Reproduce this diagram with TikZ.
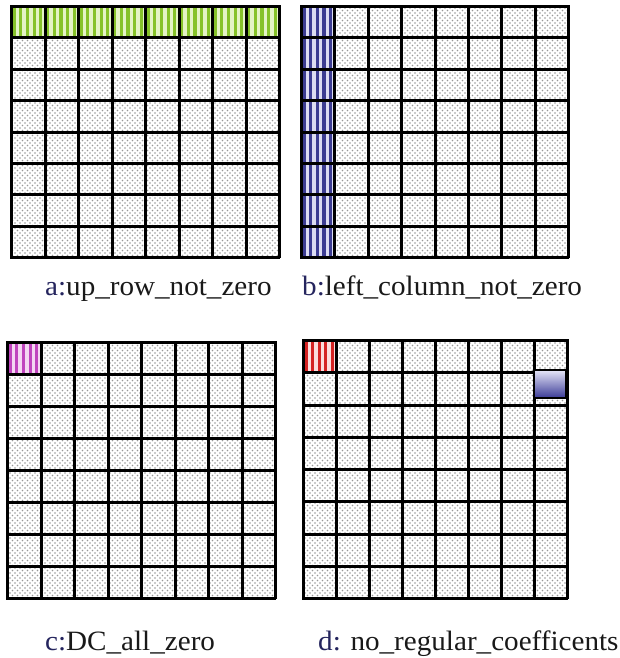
\documentclass[tikz,border=0pt]{standalone}
\usepackage{fontspec}
\setmainfont[FakeStretch=1.04]{Liberation Serif}
\usetikzlibrary{patterns}
\definecolor{navy}{HTML}{25255E}
\definecolor{gdark}{HTML}{86C22A}
\definecolor{glight}{HTML}{E4F3C6}
\definecolor{bdark}{HTML}{3C3C92}
\definecolor{blight}{HTML}{DCDCF2}
\definecolor{mdark}{HTML}{C044BE}
\definecolor{mlight}{HTML}{F4D6F2}
\definecolor{rdark}{HTML}{D42222}
\definecolor{rlight}{HTML}{FADCDC}
\definecolor{gradtop}{HTML}{E6E6F8}
\definecolor{gradbot}{HTML}{3A3A96}
\pgfdeclarepatternformonly{refdots}{\pgfqpoint{-1pt}{-1pt}}{\pgfqpoint{6pt}{6pt}}{\pgfqpoint{5pt}{5pt}}{%
  \pgfpathcircle{\pgfqpoint{0pt}{0pt}}{0.95pt}%
  \pgfpathcircle{\pgfqpoint{2.5pt}{2.5pt}}{0.95pt}%
  \pgfusepath{fill}}
\newcommand\stripecell[6]{%
  \fill[#6] (#1,#2) rectangle ++(#3,#4);
  \foreach \k in {0,...,4}{\fill[#5] ({#1+(\k+0.22)*#3/5},#2) rectangle ++({0.48*#3/5},#4);}
}
\tikzset{
  gridline/.style={line width=2.8pt, black, line cap=rect},
  cellfill/.style={pattern=refdots, pattern color=gray!80},
  lbl/.style={anchor=base west, inner sep=0pt, font=\rmfamily\fontsize{28}{30}\selectfont, text=black!90}
}
\begin{document}
\begin{tikzpicture}[x=1pt,y=-1pt]
\useasboundingbox (0,0) rectangle (620,658);
\fill[white] (0,0) rectangle (620,658);
% backgrounds
\foreach \gx/\gy/\gw/\gh in {11/6/268/251, 301/6/267/251, 7/342/268/256, 303/340/264/258}{
  \fill[white] (\gx,\gy) rectangle ++(\gw,\gh);
  \fill[cellfill] (\gx,\gy) rectangle ++(\gw,\gh);
}
% a: top row green
\foreach \c in {0,...,7}{\stripecell{11+\c*33.5}{6}{33.5}{31.375}{gdark}{glight}}
% b: left column blue
\foreach \r in {0,...,7}{\stripecell{301}{6+\r*31.375}{33.375}{31.375}{bdark}{blight}}
% c: magenta cell
\stripecell{7}{342}{33.5}{32}{mdark}{mlight}
% d: red cell
\stripecell{303}{340}{33}{32.25}{rdark}{rlight}
% grid lines
\foreach \gx/\gy/\gw/\gh in {11/6/268/251, 301/6/267/251, 7/342/268/256, 303/340/264/258}{
  \foreach \i in {0,...,8}{
    \draw[gridline] ({round(\gx+\i*\gw/8)+0.5},\gy) -- ++(0,\gh);
    \draw[gridline] (\gx,{round(\gy+\i*\gh/8)+0.5}) -- ++(\gw,0);
  }
}
% d: gradient block
\shade[top color=gradtop, bottom color=gradbot] (534,370) rectangle (566,398);
\draw[line width=2.8pt] (534,370) rectangle (566,398);
% labels
\node[lbl] (la) at (45,295) {\textcolor{navy}{a:}up\_row\_not\_zero};
\node[lbl] (lb) at (302,295) {\textcolor{navy}{b:}left\_column\_not\_zero};
\node[lbl] (lc) at (45,650) {\textcolor{navy}{c:}DC\_all\_zero};
\node[lbl] (ld) at (318,650) {\textcolor{navy}{d:} no\_regular\_coefficents};
\end{tikzpicture}
\end{document}
